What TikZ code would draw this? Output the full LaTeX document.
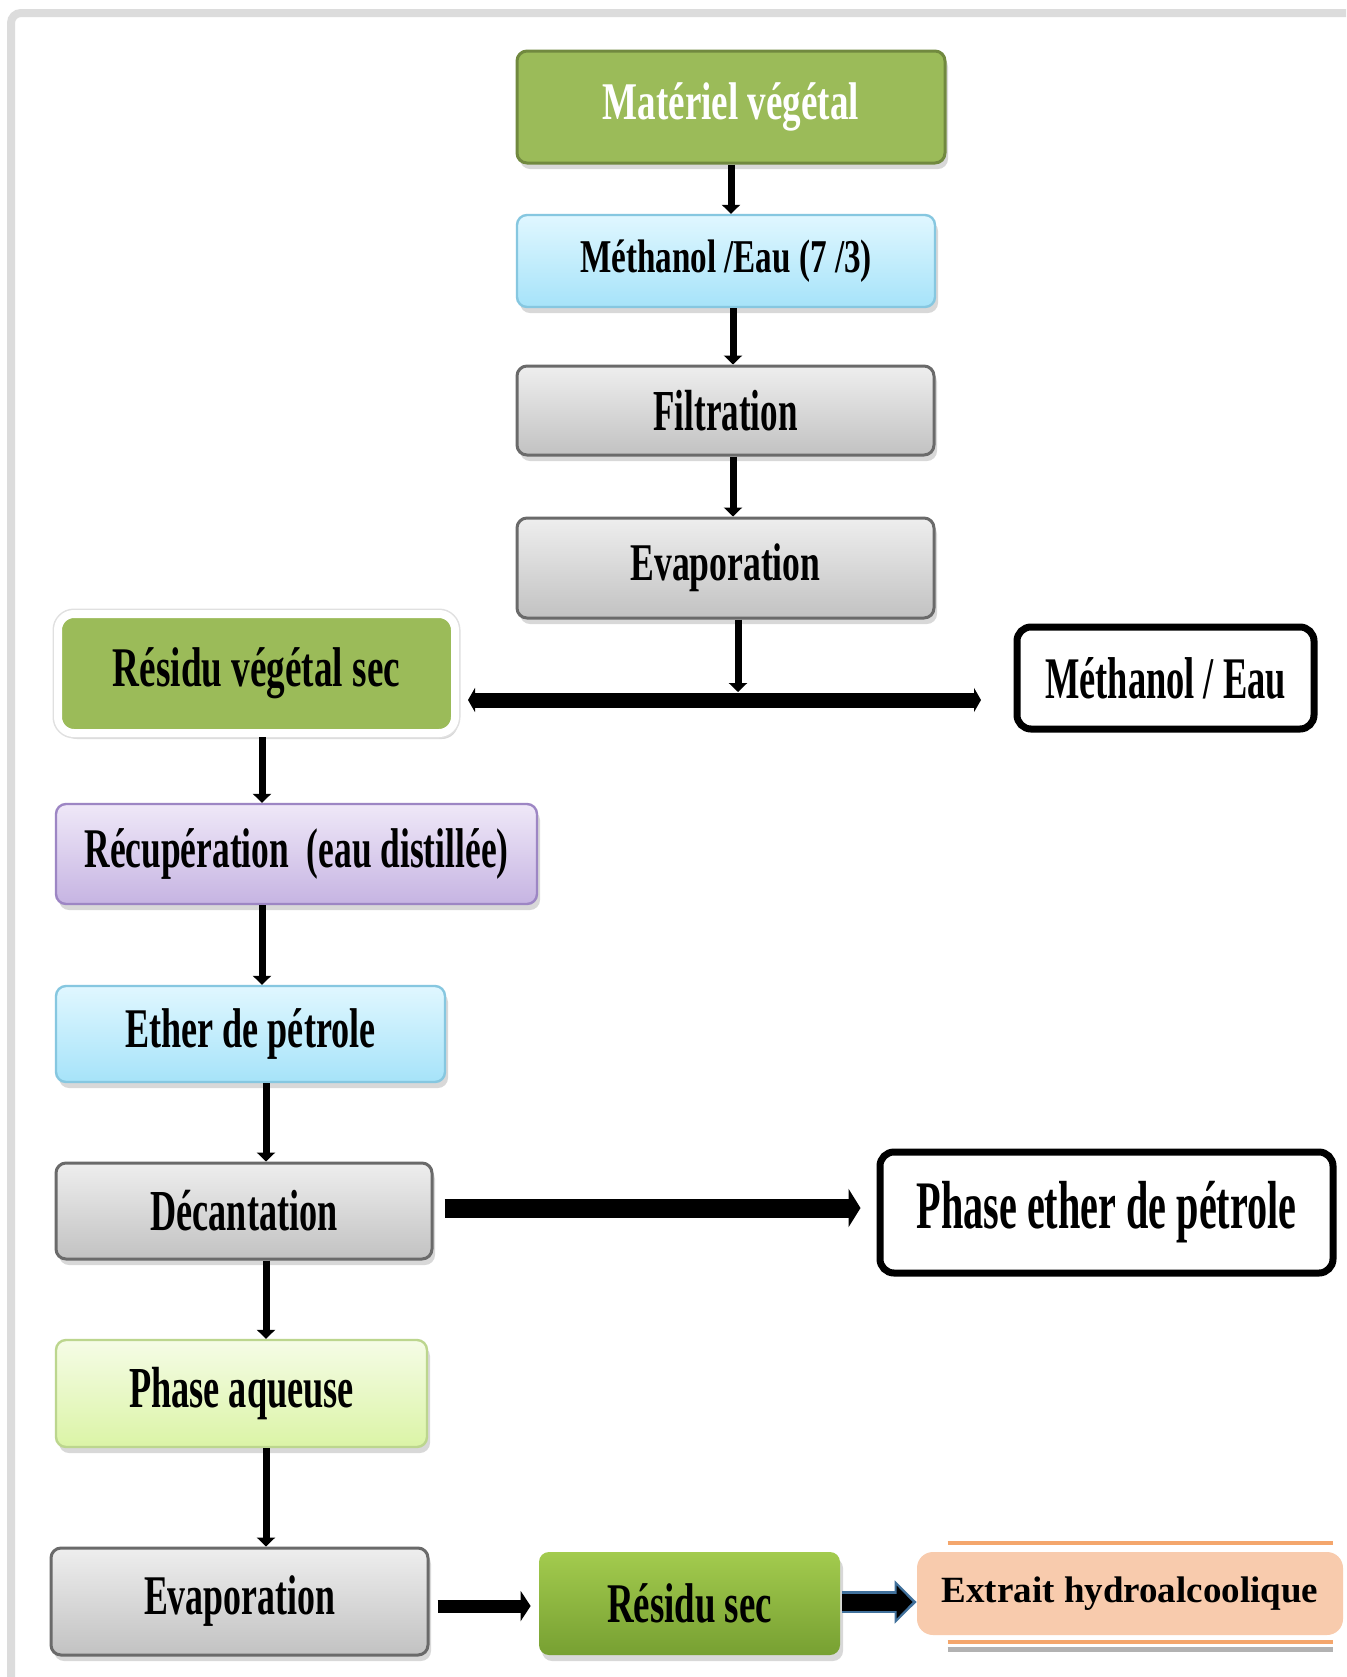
\documentclass[tikz,border=0pt]{standalone}
\usepackage{fontspec}
\setmainfont{Liberation Serif}
\usepackage{graphicx}
\usetikzlibrary{arrows.meta,shadows,calc}
\definecolor{grn}{HTML}{9BBB59}
\definecolor{grnd}{HTML}{71893F}
\definecolor{bltop}{HTML}{E0F7FF}
\definecolor{blbot}{HTML}{A6E3F9}
\definecolor{blbd}{HTML}{86C7E0}
\definecolor{grtop}{HTML}{EEEEEE}
\definecolor{grbot}{HTML}{C2C2C2}
\definecolor{grbd}{HTML}{6A6A6A}
\definecolor{putop}{HTML}{EFE8F8}
\definecolor{pubot}{HTML}{C6B4E2}
\definecolor{pubd}{HTML}{9D86C4}
\definecolor{yetop}{HTML}{F5FCE6}
\definecolor{yebot}{HTML}{DBF4A6}
\definecolor{yebd}{HTML}{BCD68E}
\definecolor{rstop}{HTML}{A3CB4E}
\definecolor{rsbot}{HTML}{77A032}
\definecolor{peach}{HTML}{F8CBAD}
\definecolor{orl}{HTML}{F4A66C}
\definecolor{framec}{HTML}{DCDCDC}
\definecolor{arrbl}{HTML}{41719C}
\newcommand\ct[3]{\resizebox{#1pt}{\height}{\fontsize{#2pt}{#2pt}\selectfont\bfseries #3}}
\begin{document}
\begin{tikzpicture}[x=0.5pt,y=-0.5pt,
  bx/.style 2 args={minimum width=#1*0.5pt, minimum height=#2*0.5pt, inner sep=0pt, rounded corners=5pt, text=black},
  shd/.style={drop shadow={shadow xshift=1.5pt, shadow yshift=-3pt, opacity=0.3}},
  greenbox/.style={shd, fill=grn, draw=grnd, line width=1.5pt, text=white},
  bluebox/.style={shd, top color=bltop, bottom color=blbot, draw=blbd, line width=1.2pt},
  graybox/.style={shd, top color=grtop, bottom color=grbot, draw=grbd, line width=1.5pt},
  purplebox/.style={shd, top color=putop, bottom color=pubot, draw=pubd, line width=1.2pt},
  yellowbox/.style={shd, top color=yetop, bottom color=yebot, draw=yebd, line width=1.2pt},
  outbox/.style={fill=white, draw=black, line width=3.5pt, rounded corners=7pt},
  varr/.style={line width=3.5pt, -{Triangle[width=9pt,length=4.5pt]}}
]
\useasboundingbox (0,0) rectangle (1346,1677);
\clip (0,0) rectangle (1346,1677);
\fill[white] (0,0) rectangle (1346,1677);
\draw[framec, line width=4pt, rounded corners=5pt] (11,13) rectangle (1420,1760);

% top column
\node[bx={428}{112}, greenbox] (mat) at (731,107) {\raisebox{-3pt}{\ct{128}{26.5}{Matériel végétal}}};
\node[bx={418}{92}, bluebox] (meo) at (726,261) {\raisebox{-2pt}{\ct{146}{23.5}{Méthanol /Eau (7 /3)}}};
\node[bx={417}{89}, graybox] (fil) at (725.5,410.5) {\ct{72}{29}{Filtration}};
\node[bx={417}{100}, graybox] (eva) at (725.5,568) {\ct{95}{26.5}{Evaporation}};

% split row
\node[bx={397}{119}, shd, fill=grn, draw=white, line width=4pt, rounded corners=8pt,
      preaction={draw=black!12, line width=5.5pt}] (rvs) at (256.5,673.5) {\ct{143.5}{28}{Résidu végétal sec}};
\node[bx={297}{102}, outbox] (me2) at (1165.5,678) {\ct{120.5}{29.5}{Méthanol / Eau}};

% left column
\node[bx={481}{100}, purplebox] (rec) at (296.5,854) {\ct{212}{28}{Récupération~~(eau distillée)}};
\node[bx={389}{96}, bluebox] (eth) at (250.5,1034) {\ct{125}{28}{Ether de pétrole}};
\node[bx={376}{96}, graybox] (dec) at (244,1211) {\ct{93.5}{29}{Décantation}};
\node[bx={453}{121}, outbox] (phe) at (1106.5,1212.5) {\raisebox{-3pt}{\ct{190}{34}{Phase ether de pétrole}}};
\node[bx={371}{107}, yellowbox] (pha) at (241.5,1393.5) {\ct{112.5}{29}{Phase aqueuse}};
\node[bx={377}{107}, graybox] (ev2) at (239.5,1601.5) {\ct{95.5}{28}{Evaporation}};
\node[bx={301}{103}, shd, top color=rstop, bottom color=rsbot, draw=none] (rse) at (689.5,1603.5) {\ct{82.5}{28}{Résidu sec}};
\node[bx={426}{83}, fill=peach, rounded corners=8pt] (ext) at (1130,1593.5) {\fontsize{18.5pt}{20pt}\selectfont\bfseries Extrait hydroalcoolique};
\draw[black!30, line width=2.5pt] ($(ext.south west)+(31,14)$) -- ($(ext.south east)+(-10,14)$);
\draw[orl, line width=2pt] ($(ext.north west)+(31,-9)$) -- ($(ext.north east)+(-10,-9)$);
\draw[orl, line width=2pt] ($(ext.south west)+(31,7)$) -- ($(ext.south east)+(-10,7)$);

% vertical arrows, top column
\coordinate (cx) at (733,0);
\draw[varr] (mat.south) -- (meo.north -| mat.south);
\draw[varr] (meo.south -| cx) -- (fil.north -| cx);
\draw[varr] (fil.south -| cx) -- (eva.north -| cx);

% split bar
\coordinate (bl) at (468,700);
\coordinate (br) at (981,700);
\coordinate (bj) at (738,692);
\draw[line width=7.5pt, {Triangle[width=12pt,length=3.5pt]}-{Triangle[width=12pt,length=3.5pt]}] (bl) -- (br);
\draw[varr] (eva.south -| bj) -- (bj);

% left column arrows
\coordinate (lx) at (262,0);
\coordinate (lx2) at (266,0);
\draw[varr] (rvs.south -| lx) -- (rec.north -| lx);
\draw[varr] (rec.south -| lx) -- (eth.north -| lx);
\draw[varr] (eth.south -| lx2) -- (dec.north -| lx2);
\draw[varr] (dec.south -| lx2) -- (pha.north -| lx2);
\draw[varr] (pha.south -| lx2) -- (ev2.north -| lx2);

% horizontal arrows
\draw[line width=9.5pt, -{Triangle[width=19pt,length=6pt]}] ($(dec.east)+(11,-3)$) -- ($(phe.west)+(-16,-4.5)$);
\draw[line width=6.5pt, -{Triangle[width=15pt,length=5pt]}] ($(ev2.east)+(8,4.5)$) -- ($(rse.west)+(-8,2.5)$);
\draw[arrbl, line width=11pt, -{Triangle[width=21pt,length=11pt]}] ($(rse.east)+(2,-1.5)$) -- ($(ext.west)+(0,8.5)$);
\draw[black, line width=8.5pt, -{Triangle[width=16pt,length=8pt]}] ($(rse.east)+(2,-1.5)$) -- ($(ext.west)+(-4,8.5)$);
\end{tikzpicture}
\end{document}
